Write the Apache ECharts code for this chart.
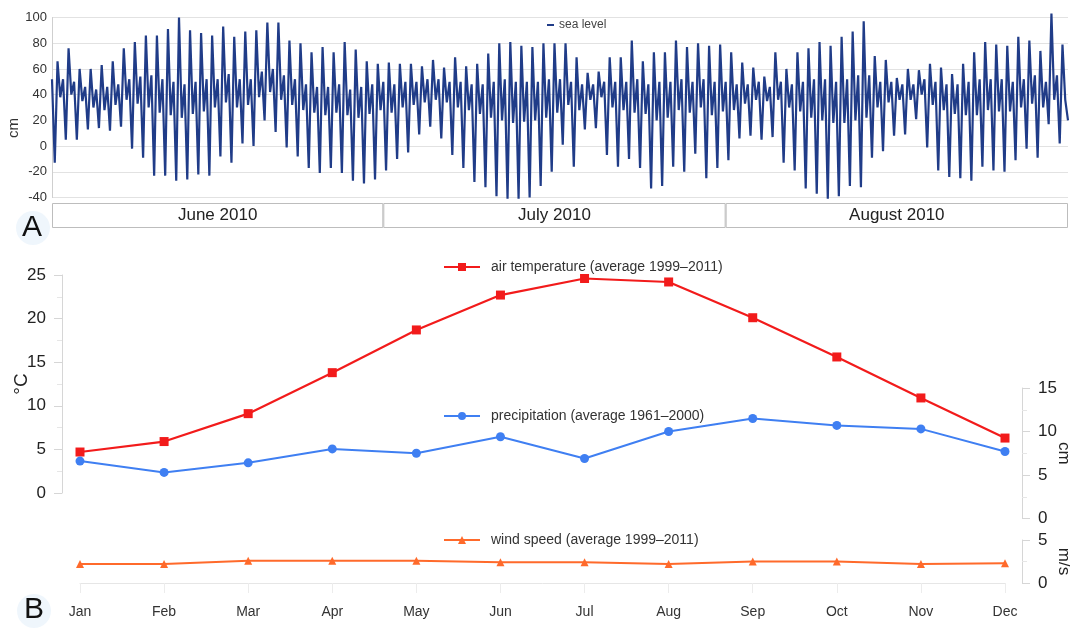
<!DOCTYPE html>
<html>
<head>
<meta charset="utf-8">
<script src="https://cdn.jsdelivr.net/npm/echarts@6/dist/echarts.min.js"></script>
<style>
  html, body { margin: 0; padding: 0; background: #fff; }
  #chart { width: 1070px; height: 628px; }
</style>
</head>
<body>
<div id="chart"></div>
<script>
// ---- Panel A: hourly-tide sea level, June–August 2010 (cm) ----
const months = ['June 2010', 'July 2010', 'August 2010'];
const monthDays = [30, 31, 31];
const seaStart = 52;

// main low of each day
const lowJune = [-13, 5, 5, 13, 14, 12, 15, -2, -9, -23, -23, -27, -26, -22, -23, -8, -13, 2, 0, 20, 11, -1, -8, -17, -21, -17, -21, -27, -29, -26];
const lowJuly = [-19, -10, -5, 9, 15, 6, -7, -17, -28, -32, -39, -41, -41, -40, -31, -20, 1, -16, 13, 14, -7, -16, -10, -17, -33, -31, -16, -20, -6, -25, -17];
const lowAug  = [-11, 6, 8, 5, 7, -13, -19, -33, -37, -41, -39, -31, -32, -9, -4, 8, 9, 21, -1, -19, -24, -25, -27, -16, -19, -20, -11, -2, -9, 17, 2];

// main high of each day
const highJune = [66, 76, 60, 60, 63, 66, 76, 81, 86, 86, 91, 100, 90, 88, 86, 93, 85, 89, 90, 96, 96, 82, 80, 73, 77, 73, 81, 75, 66, 64];
const highJuly = [65, 64, 64, 62, 67, 61, 69, 62, 64, 72, 80, 81, 78, 77, 80, 80, 80, 69, 57, 58, 69, 69, 82, 66, 73, 73, 82, 77, 80, 78, 79];
const highAug  = [73, 65, 61, 54, 73, 60, 73, 76, 81, 78, 85, 89, 97, 70, 67, 53, 60, 59, 64, 61, 56, 64, 73, 81, 79, 78, 85, 82, 74, 103, 79];

// secondary low of each day
const secLowJune = [38, 40, 35, 30, 28, 32, 36, 33, 30, 26, 24, 22, 25, 27, 30, 34, 30, 32, 38, 42, 36, 32, 28, 26, 24, 26, 24, 22, 25, 28];
const secLowJuly = [26, 30, 32, 34, 36, 34, 30, 28, 25, 22, 20, 18, 19, 20, 22, 26, 32, 28, 36, 38, 30, 28, 26, 25, 20, 22, 28, 26, 30, 24, 27];
const secLowAug  = [28, 33, 36, 35, 36, 30, 27, 22, 20, 18, 18, 20, 22, 30, 34, 36, 36, 40, 32, 28, 25, 24, 24, 28, 27, 27, 30, 33, 30, 36, 36];

// secondary high of each day
const secHighJune = [52, 50, 46, 44, 46, 48, 52, 54, 55, 52, 50, 48, 50, 52, 52, 56, 52, 52, 58, 60, 55, 52, 48, 46, 46, 48, 44, 46, 48, 50];
const secHighJuly = [48, 50, 50, 52, 52, 50, 50, 48, 48, 50, 52, 50, 50, 50, 52, 52, 50, 48, 48, 50, 50, 50, 52, 48, 50, 50, 52, 50, 52, 50, 50];
const secHighAug  = [48, 48, 50, 46, 50, 48, 50, 52, 52, 50, 52, 55, 55, 50, 50, 48, 48, 52, 50, 48, 48, 50, 52, 52, 52, 50, 52, 55, 50, 55, 20];

// ---- Panel B: monthly climate normals ----
const monthNames = ['Jan', 'Feb', 'Mar', 'Apr', 'May', 'Jun', 'Jul', 'Aug', 'Sep', 'Oct', 'Nov', 'Dec'];
const airTemp = [4.7, 5.9, 9.1, 13.8, 18.7, 22.7, 24.6, 24.2, 20.1, 15.6, 10.9, 6.3];   // °C
const precip  = [6.6, 5.3, 6.4, 8.0, 7.5, 9.4, 6.9, 10.0, 11.5, 10.7, 10.3, 7.7];     // cm
const wind    = [2.2, 2.2, 2.6, 2.6, 2.6, 2.4, 2.4, 2.2, 2.5, 2.5, 2.2, 2.3];         // m/s

const nameTemp = 'air temperature (average 1999\u20132011)';
const namePrec = 'precipitation (average 1961\u20132000)';
const nameWind = 'wind speed (average 1999\u20132011)';

// Sea-level series: four readings per day, six hours apart, on a day axis
const dailyLow = lowJune.concat(lowJuly, lowAug);
const dailyHigh = highJune.concat(highJuly, highAug);
const secLow = secLowJune.concat(secLowJuly, secLowAug);
const secHigh = secHighJune.concat(secHighJuly, secHighAug);
const totalDays = monthDays.reduce((a, b) => a + b, 0);
const seaData = [[0, seaStart]];
dailyLow.forEach((_, d) => {
  [dailyLow[d], dailyHigh[d], secLow[d], secHigh[d]].forEach((v, k) => {
    seaData.push([d + (k + 1) / 4, v]);
  });
});

const FONT = 'Liberation Sans, Arial, Helvetica, sans-serif';
const axisGrey = '#d6d6d6';

const chart = echarts.init(document.getElementById('chart'), null, { renderer: 'canvas' });

const rightAxis = (grid, max, name) => ({
  gridIndex: grid, type: 'value', min: 0, max: max, interval: 5, position: 'right', offset: 17,
  axisLine: { show: true, lineStyle: { color: axisGrey } },
  axisTick: { show: true, length: 8, lineStyle: { color: axisGrey } },
  minorTick: { show: true, splitNumber: 2, length: 5, lineStyle: { color: '#e6e6e6' } },
  splitLine: { show: false },
  axisLabel: { fontSize: 17, color: '#222', margin: 16 },
  name: name, nameLocation: 'middle', nameGap: 33, nameRotate: -90, nameMoveOverlap: false,
  nameTextStyle: { fontSize: 17, color: '#222' }
});

const monthBars = months.map((m, i) => ({
  type: 'bar', xAxisIndex: 1, yAxisIndex: 1, stack: 'months', silent: true,
  data: [monthDays[i]], barWidth: '100%',
  itemStyle: { color: '#fff', borderColor: '#bdbdbd', borderWidth: 1 },
  label: { show: true, position: 'inside', formatter: m, fontSize: 17, color: '#222', fontFamily: FONT }
}));

const gridBase = { outerBoundsMode: 'none', containLabel: false };

chart.setOption({
  animation: false,
  backgroundColor: '#fff',
  textStyle: { fontFamily: FONT },
  grid: [
    Object.assign({ left: 52, right: 2, top: 17.5, height: 180 }, gridBase),
    Object.assign({ left: 52, right: 2, top: 203, height: 25 }, gridBase),
    Object.assign({ left: 80, right: 65, top: 275, height: 218 }, gridBase),
    Object.assign({ left: 80, right: 65, top: 388, height: 130.5 }, gridBase),
    Object.assign({ left: 80, right: 65, top: 540, height: 43 }, gridBase)
  ],
  legend: [
    { data: ['sea level'], left: 547, top: 19, padding: 0, icon: 'rect', itemWidth: 7, itemHeight: 2,
      textStyle: { fontSize: 12, color: '#444' } },
    { data: [nameTemp], left: 443, top: 260, padding: 0, itemWidth: 36, itemHeight: 10,
      textStyle: { fontSize: 14, color: '#333', padding: [0, 0, 0, 6] } },
    { data: [namePrec], left: 443, top: 409, padding: 0, itemWidth: 36, itemHeight: 10,
      textStyle: { fontSize: 14, color: '#333', padding: [0, 0, 0, 6] } },
    { data: [nameWind], left: 443, top: 533, padding: 0, itemWidth: 36, itemHeight: 10,
      textStyle: { fontSize: 14, color: '#333', padding: [0, 0, 0, 6] } }
  ],
  xAxis: [
    { gridIndex: 0, type: 'value', min: 0, max: totalDays, show: false },
    { gridIndex: 1, type: 'value', min: 0, max: totalDays, show: false },
    { gridIndex: 2, type: 'category', data: monthNames, boundaryGap: false, show: false },
    { gridIndex: 3, type: 'category', data: monthNames, boundaryGap: false, show: false },
    { gridIndex: 4, type: 'category', data: monthNames, boundaryGap: false,
      axisLine: { show: true, lineStyle: { color: '#e6e6e6' } },
      axisTick: { show: true, alignWithLabel: true, length: 10, lineStyle: { color: '#ececec' } },
      axisLabel: { fontSize: 14, color: '#333', margin: 22 } }
  ],
  yAxis: [
    { gridIndex: 0, type: 'value', min: -40, max: 100, interval: 20,
      axisLine: { show: true, lineStyle: { color: '#cfcfcf' } },
      axisTick: { show: false },
      axisLabel: { fontSize: 13, color: '#333', margin: 5 },
      splitLine: { lineStyle: { color: '#e2e2e2' } } },
    { gridIndex: 1, type: 'category', data: ['band'], show: false },
    { gridIndex: 2, type: 'value', min: 0, max: 25, interval: 5, position: 'left', offset: 18,
      axisLine: { show: true, lineStyle: { color: axisGrey } },
      axisTick: { show: true, length: 8, lineStyle: { color: axisGrey } },
      minorTick: { show: true, splitNumber: 2, length: 5, lineStyle: { color: '#e6e6e6' } },
      splitLine: { show: false },
      axisLabel: { fontSize: 17, color: '#222', margin: 16 },
      name: '\u00b0C', nameLocation: 'middle', nameGap: 31, nameMoveOverlap: false,
      nameTextStyle: { fontSize: 19, color: '#222' } },
    rightAxis(3, 15, 'cm'),
    rightAxis(4, 5, 'm/s')
  ],
  series: [
    { name: 'sea level', type: 'line', xAxisIndex: 0, yAxisIndex: 0, data: seaData,
      showSymbol: false, symbol: 'none', clip: false, sampling: false,
      color: '#203c88', lineStyle: { color: '#203c88', width: 2.2 } },
    ...monthBars,
    { name: nameTemp, type: 'line', xAxisIndex: 2, yAxisIndex: 2, data: airTemp,
      symbol: 'rect', symbolSize: 9, color: '#f21b1b', lineStyle: { width: 2.2 } },
    { name: namePrec, type: 'line', xAxisIndex: 3, yAxisIndex: 3, data: precip,
      symbol: 'circle', symbolSize: 9, color: '#3f7ff2', lineStyle: { width: 2 } },
    { name: nameWind, type: 'line', xAxisIndex: 4, yAxisIndex: 4, data: wind,
      symbol: 'triangle', symbolSize: 8, color: '#ff6a2b', lineStyle: { width: 2 } }
  ],
  graphic: [
    // unit title of the sea-level axis
    { type: 'text', x: 14, y: 128, rotation: Math.PI / 2,
      style: { text: 'cm', fontSize: 15, fontFamily: FONT, fill: '#333', textAlign: 'center', textVerticalAlign: 'middle' } },
    { type: 'circle', shape: { cx: 33, cy: 228, r: 17 }, style: { fill: 'rgba(226,238,249,0.55)' }, silent: true },
    { type: 'text', x: 32, y: 228, style: { text: 'A', fontSize: 30, fontFamily: FONT, fill: '#111',
      textAlign: 'center', textVerticalAlign: 'middle' } },
    { type: 'circle', shape: { cx: 34, cy: 611, r: 17 }, style: { fill: 'rgba(226,238,249,0.55)' }, silent: true },
    { type: 'text', x: 34, y: 610, style: { text: 'B', fontSize: 30, fontFamily: FONT, fill: '#111',
      textAlign: 'center', textVerticalAlign: 'middle' } }
  ]
});
</script>
</body>
</html>
